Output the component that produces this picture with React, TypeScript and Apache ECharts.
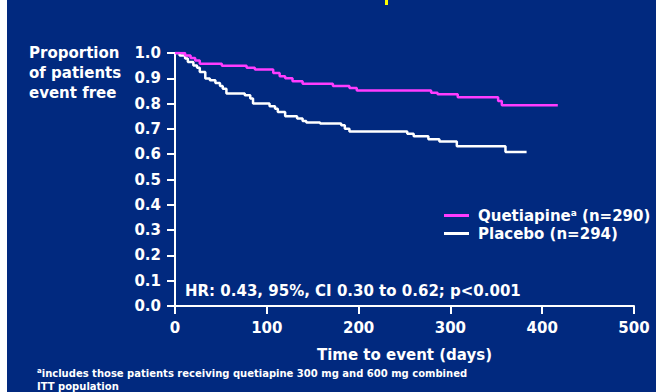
import React, { useEffect, useRef } from "react";
import * as echarts from "echarts";

const xTicks = [0, 100, 200, 300, 400, 500];
const yTicks = [0, 0.1, 0.2, 0.3, 0.4, 0.5, 0.6, 0.7, 0.8, 0.9, 1.0];

const quetiapineDays = [0, 11, 17, 22, 27, 51, 78, 87, 107, 114, 120, 128, 139, 172, 190, 198, 279, 286, 308, 352, 356, 417];
const quetiapineSurv = [1.0, 0.99, 0.98, 0.97, 0.958, 0.95, 0.942, 0.935, 0.921, 0.908, 0.9, 0.888, 0.878, 0.87, 0.862, 0.852, 0.843, 0.837, 0.825, 0.81, 0.793, 0.793];

const placeboDays = [0, 5, 11, 14, 20, 24, 27, 33, 38, 44, 49, 52, 56, 76, 82, 85, 103, 109, 112, 120, 133, 139, 143, 158, 181, 185, 190, 253, 260, 276, 288, 307, 360, 383];
const placeboSurv = [1.0, 0.99, 0.978, 0.964, 0.951, 0.942, 0.925, 0.899, 0.892, 0.881, 0.87, 0.859, 0.84, 0.833, 0.82, 0.8, 0.79, 0.78, 0.767, 0.75, 0.741, 0.731, 0.725, 0.721, 0.714, 0.701, 0.69, 0.681, 0.671, 0.659, 0.65, 0.631, 0.609, 0.609];

const seriesNames = ["Quetiapine", "Placebo"];
const legendLabels = ["Quetiapine{sup|a} (n=290)", "Placebo (n=294)"];
const yAxisTitle = ["Proportion", "of patients", "event free"];
const xAxisTitle = "Time to event (days)";
const hrText = "HR: 0.43, 95%, CI 0.30 to 0.62; p<0.001";
const footnote1 = "includes those patients receiving quetiapine 300 mg and 600 mg combined";
const footnote2 = "ITT population";

const NAVY = "#01297f";
const MAGENTA = "#ff3cff";
const WHITE = "#ffffff";
const FONT = "DejaVu Sans";

export default function App() {
  const ref = useRef<HTMLDivElement>(null);
  useEffect(() => {
    if (!ref.current) return;
    const chart = echarts.init(ref.current, null, { renderer: "svg" });
    const zip = (xs: number[], ys: number[]) => xs.map((x, i) => [x, ys[i]]);
    const bold = { color: WHITE, fontFamily: FONT, fontWeight: "bold" as const };
    const gText = (size: number) => ({ fill: WHITE, fontFamily: FONT, fontWeight: "bold", fontSize: size });
    chart.setOption({
      animation: false,
      backgroundColor: NAVY,
      textStyle: { fontFamily: FONT },
      grid: { left: 175, right: 22, top: 53, bottom: 86, outerBoundsMode: "none" },
      xAxis: {
        type: "value",
        min: 0,
        max: 500,
        interval: 100,
        name: xAxisTitle,
        nameLocation: "middle",
        nameGap: 41,
        nameTextStyle: { ...bold, fontSize: 15 },
        axisLine: { show: true, lineStyle: { color: WHITE, width: 2 } },
        axisTick: { show: true, length: 8, lineStyle: { color: WHITE, width: 2 } },
        axisLabel: { ...bold, fontSize: 15, margin: 14, formatter: (v: number) => (xTicks.includes(v) ? String(v) : "") },
        splitLine: { show: false },
      },
      yAxis: {
        type: "value",
        min: 0,
        max: 1,
        interval: 0.1,
        axisLine: { show: true, lineStyle: { color: WHITE, width: 2 } },
        axisTick: { show: true, length: 8, lineStyle: { color: WHITE, width: 2 } },
        axisLabel: {
          ...bold,
          fontSize: 15,
          margin: 14,
          formatter: (v: number) => {
            const t = yTicks.find((y) => Math.abs(y - v) < 1e-6);
            return t === undefined ? "" : t.toFixed(1);
          },
        },
        splitLine: { show: false },
      },
      legend: {
        orient: "vertical",
        left: 439,
        top: 203,
        itemWidth: 25,
        itemHeight: 3,
        itemGap: 3,
        icon: "rect",
        data: seriesNames,
        formatter: (name: string) => legendLabels[seriesNames.indexOf(name)],
        textStyle: {
          ...bold,
          fontSize: 15,
          padding: [0, 0, 0, 4],
          rich: {
            sup: { ...bold, fontSize: 9, verticalAlign: "top", padding: [0, 0, 6, 0] },
          },
        },
      },
      graphic: [
        { type: "rect", shape: { x: 0, y: 0, width: 7, height: 392 }, style: { fill: "#ffffff" } },
        { type: "rect", shape: { x: 385, y: 0, width: 3, height: 5 }, style: { fill: "#ffff00" } },
        ...yAxisTitle.map((t, i) => ({
          type: "text",
          x: 29,
          y: 53 + i * 20,
          style: { text: t, ...gText(15), verticalAlign: "middle" },
        })),
        {
          type: "text",
          x: 185,
          y: 291,
          style: { text: hrText, ...gText(15), verticalAlign: "middle" },
        },
        {
          type: "text",
          x: 37,
          y: 373,
          style: {
            text: "{sup|a}{t|" + footnote1 + "}",
            fill: WHITE,
            verticalAlign: "middle",
            rich: {
              sup: { fontFamily: FONT, fontWeight: "bold", fontSize: 7, color: WHITE, padding: [0, 0, 5, 0] },
              t: { fontFamily: FONT, fontWeight: "bold", fontSize: 10, color: WHITE },
            },
          },
        },
        {
          type: "text",
          x: 37,
          y: 386,
          style: { text: footnote2, ...gText(10), verticalAlign: "middle" },
        },
      ],
      series: [
        {
          name: seriesNames[0],
          type: "line",
          step: "end",
          symbol: "none",
          data: zip(quetiapineDays, quetiapineSurv),
          itemStyle: { color: MAGENTA },
          lineStyle: { color: MAGENTA, width: 2.5 },
          z: 3,
        },
        {
          name: seriesNames[1],
          type: "line",
          step: "end",
          symbol: "none",
          data: zip(placeboDays, placeboSurv),
          itemStyle: { color: WHITE },
          lineStyle: { color: WHITE, width: 2.5 },
          z: 2,
        },
      ],
    });
    return () => chart.dispose();
  }, []);
  return <div ref={ref} style={{ position: "fixed", left: 0, top: 0, width: 656, height: 392 }} />;
}
